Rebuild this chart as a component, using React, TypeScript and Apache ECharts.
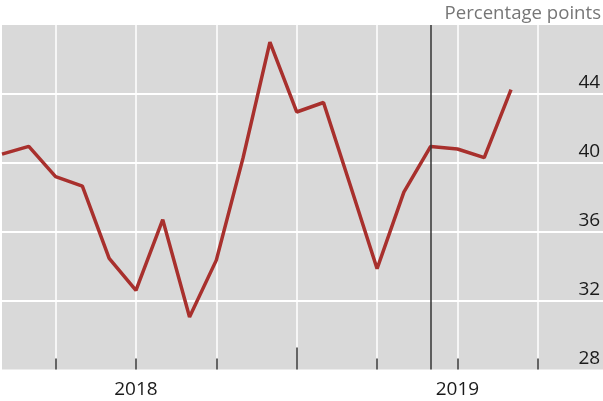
import React, { useEffect, useRef } from "react";
import * as echarts from "echarts";

const months = [
  "2018-02", "2018-03", "2018-04", "2018-05", "2018-06", "2018-07",
  "2018-08", "2018-09", "2018-10", "2018-11", "2018-12", "2019-01",
  "2019-02", "2019-03", "2019-04", "2019-05", "2019-06", "2019-07",
  "2019-08", "2019-09", "2019-10", "2019-11", "2019-12", "2020-01",
];

const values = [
  40.5, 40.95, 39.2, 38.65, 34.45, 32.6, 36.7, 31.05, 34.35, 40.3,
  47.0, 42.95, 43.5, 38.7, 33.85, 38.3, 40.95, 40.8, 40.3, 44.25,
];

const yTicks = { min: 28, max: 48, interval: 4 };
const yearLabelIdx = [5, 17];
const yearBoundaryIdx = 11;
const markerMonth = "2019-06";
const unitLabel = "Percentage points";

const FONT = "'Open Sans', 'Noto Sans', sans-serif";

export default function App() {
  const ref = useRef<HTMLDivElement>(null);

  useEffect(() => {
    if (!ref.current) return;
    const chart = echarts.init(ref.current, null, { renderer: "svg" });
    const isQuarter = (i: number) => (i - 2) % 3 === 0 && i >= 2;
    chart.setOption({
      animation: false,
      textStyle: { fontFamily: FONT },
      grid: {
        left: 2,
        right: -15.2,
        top: 25,
        bottom: 31.5,
        show: true,
        backgroundColor: "#d9d9d9",
        borderWidth: 0,
        containLabel: false,
        outerBoundsMode: "none",
      },
      xAxis: [
        {
          type: "category",
          data: months,
          boundaryGap: false,
          position: "bottom",
          axisLine: { show: false },
          axisTick: {
            show: true,
            inside: true,
            length: 11,
            interval: (i: number) => isQuarter(i) && i !== yearBoundaryIdx,
            lineStyle: { color: "#333", width: 1.5 },
          },
          axisLabel: {
            interval: (i: number) => yearLabelIdx.includes(i),
            formatter: (v: string) => v.slice(0, 4),
            fontSize: 19,
            color: "#1a1a1a",
            margin: 9,
            fontFamily: FONT,
          },
          splitLine: {
            show: true,
            interval: (i: number) => isQuarter(i),
            lineStyle: { color: "#ffffff", width: 1.5 },
          },
        },
        {
          type: "category",
          data: months,
          boundaryGap: false,
          position: "bottom",
          axisLine: { show: false },
          axisTick: {
            show: true,
            inside: true,
            length: 22,
            interval: (i: number) => i === yearBoundaryIdx,
            lineStyle: { color: "#333", width: 1.5 },
          },
          axisLabel: { show: false },
          splitLine: { show: false },
        },
      ],
      yAxis: {
        type: "value",
        position: "right",
        min: yTicks.min,
        max: yTicks.max,
        interval: yTicks.interval,
        axisLine: { show: false },
        axisTick: { show: false },
        axisLabel: {
          inside: true,
          margin: 18,
          align: "right",
          verticalAlign: "bottom",
          lineHeight: 25,
          fontSize: 19,
          color: "#1a1a1a",
          showMaxLabel: false,
          fontFamily: FONT,
        },
        splitLine: {
          show: true,
          showMinLine: false,
          showMaxLine: false,
          lineStyle: { color: "#ffffff", width: 2 },
        },
      },
      graphic: [
        {
          type: "text",
          right: 2,
          top: 2,
          style: {
            text: unitLabel,
            fontSize: 18.6,
            fill: "#767676",
            fontFamily: FONT,
          },
        },
      ],
      series: [
        {
          type: "line",
          xAxisIndex: 0,
          data: values,
          symbol: "none",
          lineStyle: { color: "#a8302d", width: 3.5 },
          markLine: {
            silent: true,
            symbol: ["none", "none"],
            label: { show: false },
            lineStyle: { color: "#333", width: 1.5, type: "solid" },
            data: [{ xAxis: markerMonth }],
          },
        },
      ],
    });
    return () => chart.dispose();
  }, []);

  return (
    <div
      ref={ref}
      style={{ position: "fixed", left: 0, top: 0, width: 603, height: 401 }}
    />
  );
}
